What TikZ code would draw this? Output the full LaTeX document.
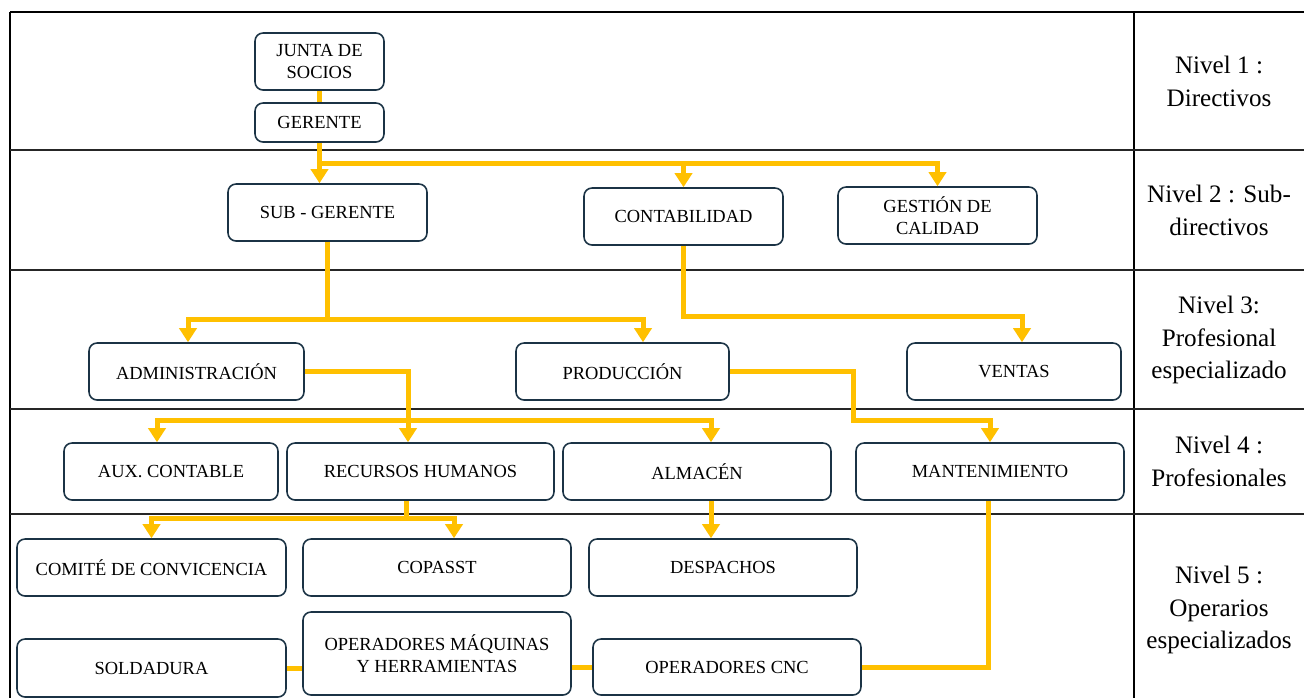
\documentclass[tikz,border=0pt]{standalone}
\usepackage{fontspec}
\setmainfont{Liberation Serif}
\usetikzlibrary{arrows.meta,calc}
\definecolor{linea}{HTML}{FFC000}
\definecolor{borde}{HTML}{1B3345}

\begin{document}
\begin{tikzpicture}[x=0.02cm, y=-0.02cm]
	\tikzstyle{every node} = [rectangle]
	\tikzstyle{caja}   = [draw=borde, line width=0.9pt, rounded corners=0.16cm, fill=white, align=center, inner sep=0pt, minimum height=1.14cm, font=\fontsize{10.5}{12.3}\selectfont]
	\tikzstyle{nivel}  = [align=center, font=\fontsize{14.3}{18.7}\selectfont]
	\tikzstyle{conn}   = [draw=linea, line width=0.1cm]
	\tikzstyle{flecha} = [conn, -{Triangle[width=0.34cm,length=0.28cm]}]
	\useasboundingbox (0,0) rectangle (1304,698);
	% tabla
	\draw [line width=1.2pt] (10,12) -- (1304,12);
	\draw [line width=1.2pt] (10,12) -- (10,698);
	\draw [line width=1.2pt] (1134,12) -- (1134,698);
	\foreach \y in {150,270,409,514}
		\draw [line width=0.8pt, black!85] (10,\y) -- (1304,\y);
	\node [nivel] (n1) at (1219,81)  {Nivel 1 :\\Directivos};
	\node [nivel] (n2) at (1219,210) {Nivel 2 : Sub-\\directivos};
	\node [nivel] (n3) at (1219,340) {Nivel 3:\\Profesional\\especializado};
	\node [nivel] (n4) at (1219,461) {Nivel 4 :\\Profesionales};
	\node [nivel] (n5) at (1219,610) {Nivel 5 :\\Operarios\\especializados};
	% cajas
	\node [caja, minimum width=2.58cm] (jun)  at (319.5,61.5)  {JUNTA DE\\SOCIOS};
	\node [caja, minimum width=2.58cm, minimum height=0.78cm] (ger) at (319.5,122.5) {GERENTE};
	\node [caja, minimum width=3.98cm] (sub)  at (327.5,212.5) {SUB - GERENTE};
	\node [caja, minimum width=3.98cm] (cont) at (683.5,216.5) {CONTABILIDAD};
	\node [caja, minimum width=3.98cm] (gest) at (937.5,215.5) {GESTIÓN DE\\CALIDAD};
	\node [caja, minimum width=4.30cm] (adm)  at (196.5,371.5) {ADMINISTRACIÓN};
	\node [caja, minimum width=4.26cm] (prod) at (622.5,371.5) {PRODUCCIÓN};
	\node [caja, minimum width=4.28cm] (ven)  at (1014,371.5)  {VENTAS};
	\node [caja, minimum width=4.28cm] (aux)  at (171,471.5)   {AUX. CONTABLE};
	\node [caja, minimum width=5.34cm] (rec)  at (420.5,471.5) {RECURSOS HUMANOS};
	\node [caja, minimum width=5.36cm] (alm)  at (697,471.5)   {ALMACÉN};
	\node [caja, minimum width=5.36cm] (mant) at (990,471.5)   {MANTENIMIENTO};
	\node [caja, minimum width=5.38cm] (com)  at (151.5,567.5) {COMITÉ DE CONVICENCIA};
	\node [caja, minimum width=5.36cm] (cop)  at (437,567.5)   {COPASST};
	\node [caja, minimum width=5.36cm] (desp) at (723,567.5)   {DESPACHOS};
	\node [caja, minimum width=5.38cm, minimum height=1.16cm] (sol) at (151.5,668) {SOLDADURA};
	\node [caja, minimum width=5.36cm, minimum height=1.66cm] (maq) at (437,653.5) {OPERADORES MÁQUINAS\\Y HERRAMIENTAS};
	\node [caja, minimum width=5.36cm, minimum height=1.12cm] (cnc) at (727,667)   {OPERADORES CNC};
	% conexiones
	\coordinate (b1) at (319.5,163);
	\coordinate (b2) at (327.5,319);
	\coordinate (b3) at (408,420);
	\coordinate (b4) at (853,420);
	\coordinate (b5) at (406,518);
	\coordinate (b6) at (683.5,316);
	\draw [conn]   (jun.south) -- (ger.north);
	\draw [flecha] (ger.south) -- (ger.south |- sub.north);
	\draw [flecha] (b1) -| (gest.north);
	\draw [flecha] (b1 -| cont.north) -- (cont.north);
	\draw [conn]   (sub.south) -- (b2);
	\draw [flecha] (b2) -| ($(adm.north)+(-8.5,0)$);
	\draw [flecha] (b2) -| ($(prod.north)+(20.5,0)$);
	\draw [flecha] (cont.south) -- (b6) -| ($(ven.north)+(8,0)$);
	\draw [flecha] (adm.east) -| ($(rec.north)+(-12.5,0)$);
	\draw [flecha] (b3) -| ($(aux.north)+(-14,0)$);
	\draw [flecha] (b3) -| ($(alm.north)+(14,0)$);
	\draw [flecha] (prod.east) -| (b4) -| (mant.north);
	\draw [conn]   ($(rec.south)+(-14.5,0)$) -- (b5);
	\draw [flecha] (b5) -| (com.north);
	\draw [flecha] (b5) -| ($(cop.north)+(17,0)$);
	\draw [flecha] ($(alm.south)+(14,0)$) -- ($(desp.north)+(-12,0)$);
	\draw [conn]   ($(mant.south)+(-2,0)$) |- (cnc.east);
	\draw [conn]   (cnc.west) -- (cnc.west -| maq.east);
	\draw [conn]   (maq.west |- sol.east) -- (sol.east);
\end{tikzpicture}
\end{document}
